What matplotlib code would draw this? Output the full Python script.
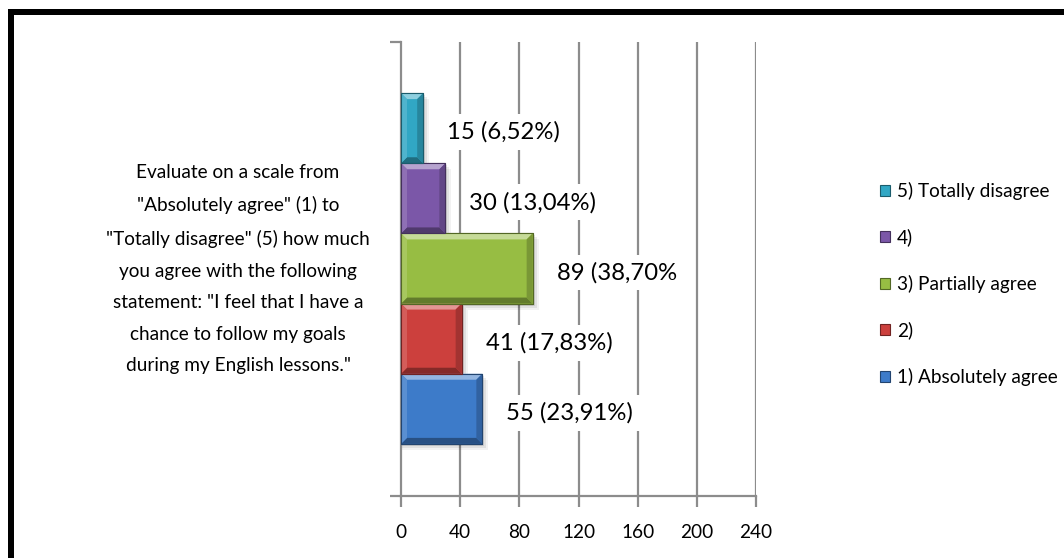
import matplotlib
matplotlib.use("Agg")
import matplotlib.pyplot as plt
from matplotlib.patches import Polygon, Rectangle
from matplotlib.colors import to_rgb
import numpy as np

# ---- data -------------------------------------------------------------
categories = ["1) Absolutely agree", "2)", "3) Partially agree", "4)",
              "5) Totally disagree"]
counts = [55, 41, 89, 30, 15]
pct_text = ["(23,91%)", "(17,83%)", "(38,70%", "(13,04%)", "(6,52%)"]
colors = ["#3D7BC9", "#CC403D", "#97BD43", "#7B57A8", "#31A7C4"]
x_ticks = [0, 40, 80, 120, 160, 200, 240]
question = ('Evaluate on a scale from\n"Absolutely agree" (1) to\n'
            '"Totally disagree" (5) how much\nyou agree with the following\n'
            'statement: "I feel that I have a\nchance to follow my goals\n'
            'during my English lessons."')

FONT = "Lato"
FS = 13.7
FS_LABEL = 17.2
GRID = "#8C8C8C"

W, H = 1064, 558
fig = plt.figure(figsize=(W / 100, H / 100), dpi=100)
fig.patch.set_facecolor("white")

# heavy black frame: only its top and left edges fall inside the canvas
fig.patches.append(Rectangle((8 / W, 1 - 15 / H), 1.0, 6 / H,
                             transform=fig.transFigure, facecolor="black",
                             edgecolor="none", zorder=0))
fig.patches.append(Rectangle((8 / W, -0.05), 6 / W, 1.05 - 9 / H,
                             transform=fig.transFigure, facecolor="black",
                             edgecolor="none", zorder=0))

ax = fig.add_axes([401 / W, 62 / H, 355 / W, 454 / H])
ax.set_facecolor("none")

n = len(counts)
ypos = np.arange(n)
pad_lo = 52 / 70
pad_hi = 51 / 70
ax.set_xlim(0, 240)
ax.set_ylim(-0.5 - pad_lo, n - 0.5 + pad_hi)

# axes styling
for s in ["top", "right"]:
    ax.spines[s].set_visible(False)
for s in ["left", "bottom"]:
    ax.spines[s].set_color(GRID)
    ax.spines[s].set_linewidth(1.6)
ax.set_xticks(x_ticks)
ax.set_xticklabels([str(t) for t in x_ticks], fontfamily=FONT, fontsize=FS)
ax.tick_params(axis="x", length=8, width=1.6, color=GRID, pad=12)
ax.set_yticks([-0.5 - pad_lo, n - 0.5 + pad_hi])
ax.set_yticklabels([])
ax.tick_params(axis="y", length=8, width=1.6, color=GRID)
for t in x_ticks[1:]:
    ax.axvline(t, color=GRID, linewidth=1.6, zorder=1)

fig.canvas.draw()
px_x = ax.transData.transform((1, 0))[0] - ax.transData.transform((0, 0))[0]
px_y = ax.transData.transform((0, 1))[1] - ax.transData.transform((0, 0))[1]


def mix(c, other, f):
    c = np.array(to_rgb(c))
    o = np.array(to_rgb(other))
    return tuple(c * (1 - f) + o * f)


def bevel_bar(y, w, color, h=1.0):
    y0, y1 = y - h / 2, y + h / 2
    bx = 6 / px_x
    by = 6 / px_y
    # soft shadow
    for k, a in [(6, 0.05), (4, 0.07), (2, 0.09)]:
        ax.add_patch(Rectangle((0, y0 - k / px_y), w + k / px_x, h,
                               facecolor="black", alpha=a, linewidth=0,
                               zorder=2))
    ax.add_patch(Rectangle((0, y0), w, h, facecolor=color,
                           edgecolor=mix(color, "black", 0.45),
                           linewidth=0.8, zorder=3))
    # top face
    ax.add_patch(Polygon([(0, y1), (w, y1), (w - bx, y1 - by), (bx, y1 - by)],
                         closed=True, facecolor=mix(color, "white", 0.45),
                         linewidth=0, zorder=4))
    # bottom face
    ax.add_patch(Polygon([(0, y0), (w, y0), (w - bx, y0 + by), (bx, y0 + by)],
                         closed=True, facecolor=mix(color, "black", 0.35),
                         linewidth=0, zorder=4))
    # left face
    ax.add_patch(Polygon([(0, y0), (0, y1), (bx, y1 - by), (bx, y0 + by)],
                         closed=True, facecolor=mix(color, "white", 0.15),
                         linewidth=0, zorder=4))
    # right face
    ax.add_patch(Polygon([(w, y0), (w, y1), (w - bx, y1 - by), (w - bx, y0 + by)],
                         closed=True, facecolor=mix(color, "black", 0.2),
                         linewidth=0, zorder=4))
    ax.add_patch(Rectangle((0, y0), w, h, facecolor="none",
                           edgecolor=mix(color, "black", 0.45),
                           linewidth=0.8, zorder=5))


for yi, c, col in zip(ypos, counts, colors):
    bevel_bar(yi, c, col)

for yi, c, p in zip(ypos, counts, pct_text):
    ax.annotate(f"{c} {p}", xy=(c, yi), xytext=(24, -4),
                textcoords="offset pixels", ha="left", va="center",
                fontfamily=FONT, fontsize=FS_LABEL, color="black", zorder=6,
                bbox=dict(boxstyle="square,pad=0.3", facecolor="white",
                          edgecolor="none"))

# question text on the left
fig.text(238 / W, 1 - 269 / H, question, ha="center", va="center",
         multialignment="center", fontfamily=FONT, fontsize=FS,
         linespacing=2.04)

# legend (series listed top to bottom in reverse order)
handles = []
for col in colors:
    handles.append(Rectangle((0, 0), 1, 1, facecolor=col,
                             edgecolor=mix(col, "black", 0.45), linewidth=0.8))
leg = fig.legend(handles[::-1], categories[::-1], loc="center left",
                 bbox_to_anchor=(880 / W, 1 - 284 / H), frameon=False,
                 prop={"family": FONT, "size": FS}, handlelength=0.55,
                 handleheight=0.55, handletextpad=0.35, labelspacing=1.5,
                 borderaxespad=0, borderpad=0)

fig.savefig("out.png", dpi=100, facecolor="white")
